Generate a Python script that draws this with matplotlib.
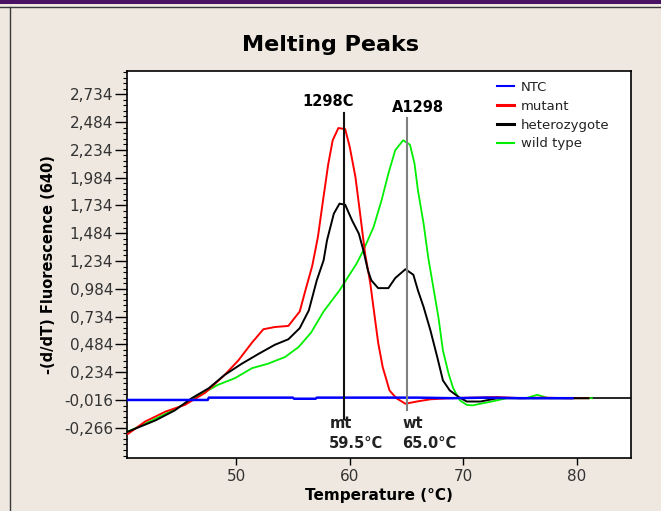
import matplotlib
matplotlib.use("Agg")
import matplotlib.pyplot as plt
import numpy as np
from matplotlib.ticker import FixedLocator, FixedFormatter
from matplotlib.lines import Line2D
from matplotlib.patches import Rectangle

# -(d/dT) melting curves, temperature in degC
ntc_temp = [40.5, 47.5, 47.6, 55.0, 55.1, 57.0, 57.1, 66.0, 69.0, 72.0, 75.0, 79.6]
ntc_vals = [-0.016, -0.016, 0.005, 0.005, -0.005, -0.005, 0.005, 0.005, 0.0, 0.005, 0.0, 0.0]

mut_temp = [40.5, 42.0, 43.8, 45.5, 47.3, 49.0, 50.2, 51.4, 52.4, 53.4, 54.6, 55.6, 56.1,
            56.7, 57.2, 57.65, 58.1, 58.5, 59.0, 59.6, 60.0, 60.5, 60.9, 61.35, 61.8, 62.2,
            62.5, 62.9, 63.5, 64.1, 64.9, 65.9, 67.1, 68.8, 71.0, 73.0, 75.0, 77.0, 79.0, 81.0]
mut_vals = [-0.32, -0.21, -0.12, -0.06, 0.05, 0.21, 0.34, 0.50, 0.62, 0.64, 0.65, 0.78, 0.97,
            1.19, 1.45, 1.78, 2.10, 2.32, 2.43, 2.42, 2.26, 1.99, 1.67, 1.30, 1.04, 0.73,
            0.50, 0.28, 0.07, 0.0, -0.05, -0.03, -0.01, 0.0, 0.005, 0.01, 0.0, 0.005, 0.0, 0.0]

het_temp = [40.5, 42.9, 44.6, 46.1, 47.6, 49.0, 50.5, 52.0, 53.4, 54.6, 55.6, 56.4, 57.1,
            57.7, 58.0, 58.6, 59.1, 59.6, 60.2, 60.8, 61.2, 61.6, 61.9, 62.5, 63.4, 64.0,
            64.9, 65.6, 66.0, 66.5, 67.1, 67.7, 68.2, 68.8, 69.6, 70.3, 71.5, 73.0, 75.0,
            77.0, 79.0, 81.0]
het_vals = [-0.30, -0.20, -0.11, 0.0, 0.09, 0.21, 0.31, 0.40, 0.48, 0.53, 0.63, 0.79, 1.06,
            1.24, 1.42, 1.66, 1.75, 1.74, 1.60, 1.48, 1.33, 1.15, 1.06, 0.99, 0.99, 1.08,
            1.16, 1.11, 0.97, 0.82, 0.61, 0.37, 0.16, 0.07, 0.01, -0.03, -0.03, 0.0, 0.0,
            0.0, 0.0, 0.0]

wt_temp = [40.5, 42.0, 43.8, 45.5, 47.0, 48.4, 49.9, 51.4, 52.8, 54.3, 55.5, 56.6, 57.7,
           59.1, 60.6, 61.2, 62.1, 62.8, 63.4, 64.0, 64.7, 65.3, 65.7, 66.0, 66.5, 66.9,
           67.3, 67.8, 68.2, 68.7, 69.1, 69.7, 70.3, 70.8, 71.5, 72.5, 73.8, 75.5, 76.5,
           77.5, 79.5, 81.3]
wt_vals = [-0.30, -0.23, -0.14, -0.05, 0.04, 0.12, 0.18, 0.27, 0.31, 0.37, 0.46, 0.59, 0.78,
           0.97, 1.21, 1.33, 1.54, 1.78, 2.02, 2.23, 2.32, 2.28, 2.11, 1.87, 1.57, 1.27,
           1.03, 0.73, 0.43, 0.22, 0.09, -0.02, -0.06, -0.065, -0.05, -0.03, 0.0, 0.0, 0.03,
           0.0, 0.0, 0.0]

# called peaks
mt_peak = 59.5
wt_peak = 65.0

ytick_vals = [-0.266, -0.016, 0.234, 0.484, 0.734, 0.984, 1.234, 1.484, 1.734, 1.984,
              2.234, 2.484, 2.734]
ytick_labels = ['-0,266', '-0,016', '0,234', '0,484', '0,734', '0,984', '1,234', '1,484',
                '1,734', '1,984', '2,234', '2,484', '2,734']
xtick_vals = [50, 60, 70, 80]

fig = plt.figure(figsize=(6.61, 5.11), dpi=100)
fig.patch.set_facecolor('#eee8e0')

# window chrome
H = 511.0
W = 661.0
fig.add_artist(Rectangle((0, 1 - 4.5 / H), 1, 4.5 / H, transform=fig.transFigure,
                         color='#4a1262', lw=0))
fig.add_artist(Line2D([0, 1], [1 - 7.5 / H, 1 - 7.5 / H], transform=fig.transFigure,
                      color='#3a3a3a', lw=1))
fig.add_artist(Line2D([9.5 / W, 9.5 / W], [0, 1 - 7.5 / H], transform=fig.transFigure,
                      color='#3a3a3a', lw=1))

ax = fig.add_axes([127 / W, 53 / H, 504 / W, 387 / H])
ax.set_facecolor('white')

# zero baseline on the high temperature side
ax.plot([68.5, 84.75], [0, 0], color='black', lw=1.2, zorder=1)
ax.plot(wt_temp, wt_vals, color='#00ee00', lw=1.3, label='wild type', zorder=2)
ax.plot(mut_temp, mut_vals, color='#ff0000', lw=1.4, label='mutant', zorder=3)
ax.plot(het_temp, het_vals, color='black', lw=1.4, label='heterozygote', zorder=4)
ax.plot(ntc_temp, ntc_vals, color='#0000ff', lw=1.8, label='NTC', zorder=5)

# peak markers
ax.plot([mt_peak, mt_peak], [-0.187, 2.562], color='#111111', lw=1.5, zorder=6)
ax.plot([wt_peak, wt_peak], [-0.106, 2.517], color='#808080', lw=1.5, zorder=6)
ax.text(58.1, 2.667, '1298C', ha='center', va='center', fontsize=10.5, fontweight='bold')
ax.text(66.0, 2.616, 'A1298', ha='center', va='center', fontsize=10.5, fontweight='bold')
ax.text(58.2, -0.225, 'mt', ha='left', va='center', fontsize=10.5, fontweight='bold',
        color='#222222')
ax.text(58.2, -0.405, '%.1f°C' % mt_peak, ha='left', va='center', fontsize=10.5,
        fontweight='bold', color='#222222')
ax.text(64.6, -0.225, 'wt', ha='left', va='center', fontsize=10.5, fontweight='bold',
        color='#222222')
ax.text(64.6, -0.405, '%.1f°C' % wt_peak, ha='left', va='center', fontsize=10.5,
        fontweight='bold', color='#222222')

ax.set_xlim(40.4, 84.75)
ax.set_ylim(-0.538, 2.943)

ax.yaxis.set_major_locator(FixedLocator(ytick_vals))
ax.yaxis.set_major_formatter(FixedFormatter(ytick_labels))
ax.yaxis.set_minor_locator(FixedLocator(np.arange(-0.516, 2.94, 0.05)))
ax.xaxis.set_major_locator(FixedLocator(xtick_vals))
ax.tick_params(axis='y', which='major', length=9, width=1, labelsize=11, labelcolor='#333333',
               pad=1)
ax.tick_params(axis='y', which='minor', length=3, width=0.8)
ax.tick_params(axis='x', which='major', length=5, width=1, labelsize=11, labelcolor='#333333',
               pad=3)
for s in ax.spines.values():
    s.set_linewidth(1.2)

ax.set_xlabel('Temperature (°C)', fontsize=11, fontweight='bold', labelpad=3)
ax.set_ylabel('-(d/dT) Fluorescence (640)', fontsize=10.5, fontweight='bold', labelpad=6)
fig.text(331 / W, 1 - 45 / H, 'Melting Peaks', ha='center', va='center', fontsize=16,
         fontweight='bold')

handles, labels = ax.get_legend_handles_labels()
order = [labels.index(n) for n in ['NTC', 'mutant', 'heterozygote', 'wild type']]
leg = ax.legend([handles[i] for i in order], [labels[i] for i in order],
                loc='upper left', bbox_to_anchor=(0.734, 0.975), frameon=False,
                fontsize=9.5, handlelength=1.3, handletextpad=0.5, labelspacing=0.45,
                borderpad=0, borderaxespad=0)
for ln, w in zip(leg.get_lines(), [1.5, 2.2, 2.2, 1.5]):
    ln.set_linewidth(w)
for t in leg.get_texts():
    t.set_color('#222222')

fig.savefig('out.png', dpi=100, facecolor=fig.get_facecolor())
